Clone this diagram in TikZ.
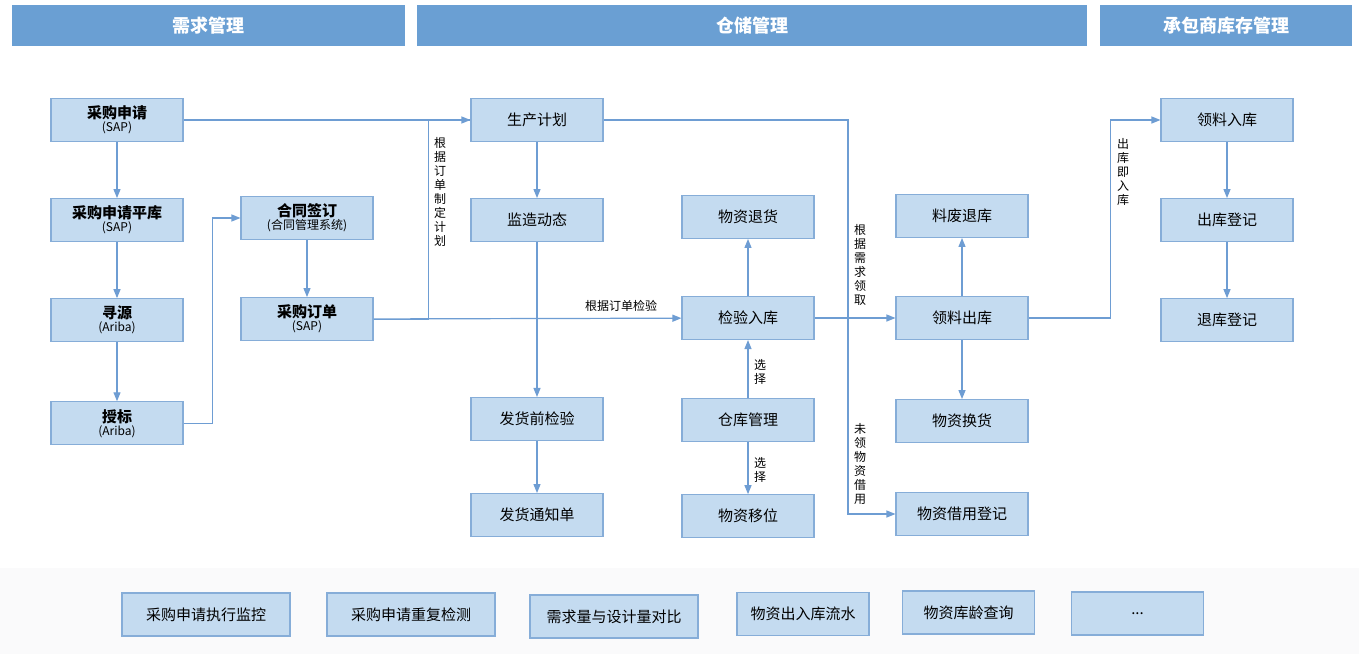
\documentclass[tikz,border=0pt]{standalone}
\usepackage{fontspec}
\setmainfont{Noto Sans CJK SC}
\usetikzlibrary{arrows.meta,positioning}
\definecolor{barblue}{HTML}{6A9FD3}
\definecolor{boxfill}{HTML}{C4DBF0}
\definecolor{boxline}{HTML}{86ADD8}
\definecolor{linkblue}{HTML}{6E9DD3}
\definecolor{footgray}{HTML}{FAFAFB}
\tikzset{
  box/.style={draw=boxline,fill=boxfill,line width=1.1pt,minimum width=132pt,
    minimum height=43pt,align=center,inner sep=2pt,font=\fontsize{15}{17}\selectfont},
  sysbox/.style={box,font=\fontsize{15}{15}\selectfont\bfseries},
  tool/.style={box,minimum width=168pt},
  header/.style={fill=barblue,text=white,minimum height=41pt,
    font=\fontsize{18}{20}\selectfont\bfseries},
  note/.style={font=\fontsize{12}{14}\selectfont,align=center,inner sep=1pt},
  link/.style={draw=linkblue,line width=1.2pt},
  arrow/.style={link,-{Triangle[length=9pt,width=7pt]}}
}
\newcommand{\sysname}[1]{\\[-2pt]{\mdseries\fontsize{12}{13}\selectfont(#1)}}

\begin{document}
\begin{tikzpicture}[x=1pt,y=-1pt,node distance=56pt]
\useasboundingbox (0,0) rectangle (1359,654);
\fill[white] (0,0) rectangle (1359,654);
\fill[footgray] (0,568) rectangle (1359,654);
% section bars
\node[header,minimum width=393pt] (hdemand) at (208.5,25.5) {需求管理};
\node[header,minimum width=670pt] (hstore) at (752,25.5) {仓储管理};
\node[header,minimum width=252pt] (hvendor) at (1226,25.5) {承包商库存管理};
% demand management
\node[sysbox] (req) at (117,120) {采购申请\sysname{SAP}};
\node[sysbox,below=of req] (pool) {采购申请平库\sysname{SAP}};
\node[sysbox,below=of pool] (source) {寻源\sysname{Ariba}};
\node[sysbox,below=59pt of source] (award) {授标\sysname{Ariba}};
\node[sysbox] (contract) at (307,218) {合同签订\sysname{合同管理系统}};
\node[sysbox,below=57pt of contract] (order) {采购订单\sysname{SAP}};
% storage management
\node[box] (plan) at (537,120) {生产计划};
\node[box,below=of plan] (watch) {监造动态};
\node[box] (precheck) at (537,419) {发货前检验};
\node[box,below=52pt of precheck] (notice) {发货通知单};
\node[box] (inbound) at (748,318) {检验入库};
\node[box,above=57pt of inbound] (return) {物资退货};
\node[box,below=58pt of inbound] (depot) {仓库管理};
\node[box,below=52pt of depot] (move) {物资移位};
\node[box] (issue) at (962,318) {领料出库};
\node[box,above=58pt of issue] (scrap) {料废退库};
\node[box,below=59pt of issue] (swap) {物资换货};
\node[box] (lend) at (962,514) {物资借用登记};
% contractor stock
\node[box] (receive) at (1227,120) {领料入库};
\node[box,below=of receive] (outreg) {出库登记};
\node[box,below=of outreg] (backreg) {退库登记};
% query tools
\node[tool] (monitor) at (206,614.5) {采购申请执行监控};
\node[tool] (dupcheck) at (411,614.5) {采购申请重复检测};
\node[tool] (compare) at (614,616.5) {需求量与设计量对比};
\node[box] (flow) at (803,614) {物资出入库流水};
\node[box] (age) at (968.5,612.5) {物资库龄查询};
\node[box] (more) at (1137.5,613.5) {...};
% connectors
\foreach \a/\b in {req/pool,pool/source,source/award,contract/order,plan/watch,
  watch/precheck,precheck/notice,inbound/return,depot/inbound,depot/move,
  issue/scrap,issue/swap,receive/outreg,outreg/backreg,req/plan,order/inbound,inbound/issue}
  \draw[arrow] (\a)--(\b);
\draw[arrow] (award.east) -- ++(29,0) |- (contract.west);
\draw[link] (order.east) -- ++(55,0) |- (plan.west);
\coordinate (bus) at (848,0);
\draw[arrow] (plan.east) -| (bus |- lend.west) -- (lend.west);
\draw[arrow] (issue.east) -- ++(82,0) |- (receive.west);
% labels
\node[note] (byorder) at (621,306) {根据订单检验};
\node[note] (byplan) at (440,192) {根\\据\\订\\单\\制\\定\\计\\划};
\node[note] (byneed) at (860,265) {根\\据\\需\\求\\领\\取};
\node[note] (borrow) at (860,464) {未\\领\\物\\资\\借\\用};
\node[note] (direct) at (1123,172) {出\\库\\即\\入\\库};
\node[note] (pickup) at (760,372) {选\\择};
\node[note] (pickdn) at (760,470) {选\\择};
\end{tikzpicture}
\end{document}
